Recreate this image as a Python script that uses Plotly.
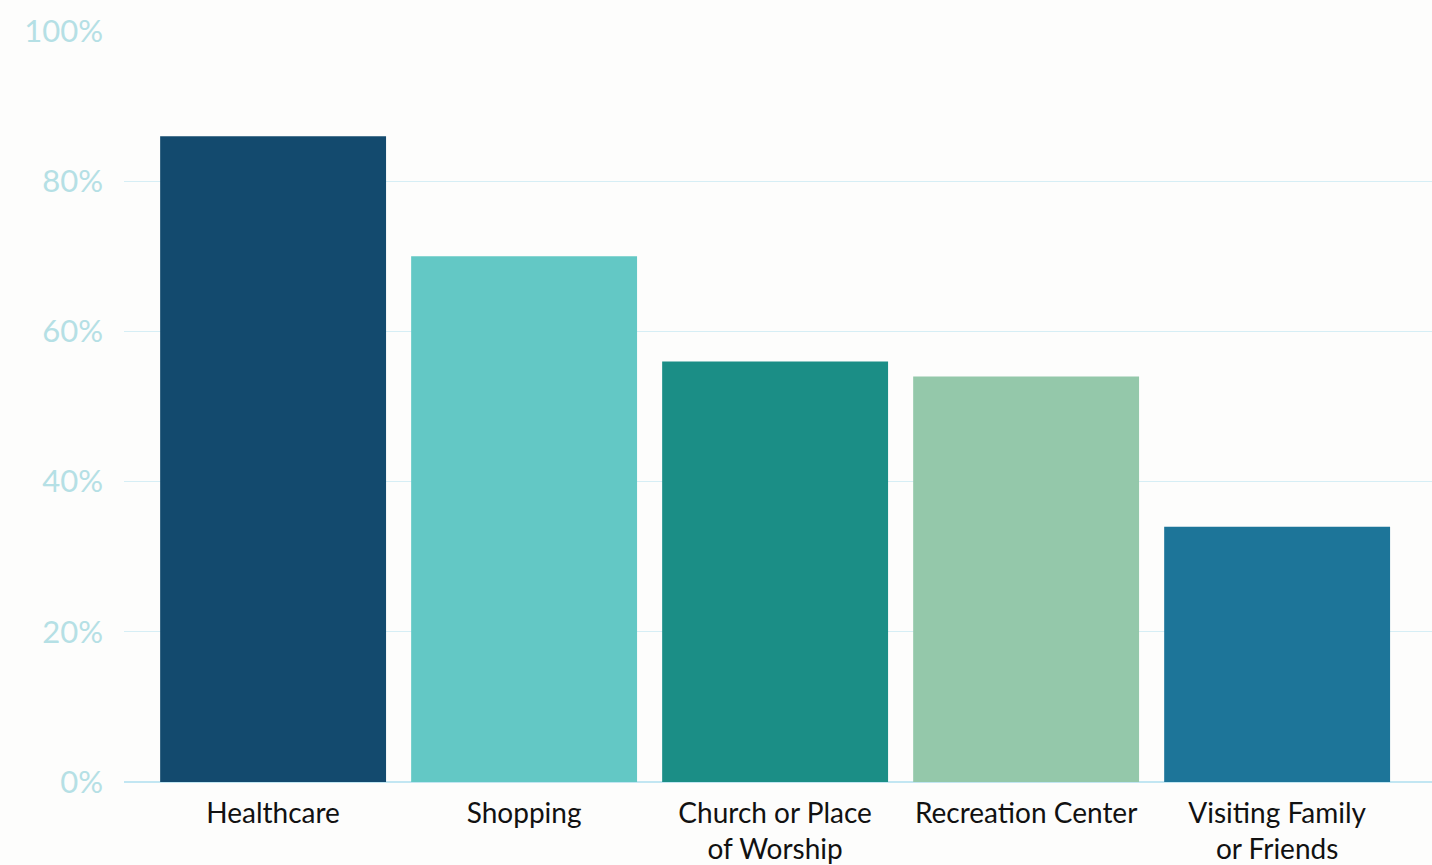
import plotly.graph_objects as go

categories = ["Healthcare", "Shopping", "Church or Place<br>of Worship", "Recreation Center", "Visiting Family<br>or Friends"]
values = [86, 70, 56, 54, 34]
colors = ["#134a6e", "#63c8c5", "#1b8e86", "#94c8aa", "#1d7599"]
y_ticks = [0, 20, 40, 60, 80, 100]
y_tick_labels = ["0%", "20%", "40%", "60%", "80%", "100%"]

fig = go.Figure(go.Bar(
    x=list(range(len(categories))),
    y=values,
    marker=dict(color=colors, line=dict(width=0)),
    hoverinfo="skip",
))

fig.update_layout(
    width=1432, height=865,
    margin=dict(l=124, r=0, t=31, b=78),
    paper_bgcolor="#fdfdfc",
    plot_bgcolor="#fdfdfc",
    bargap=0.1,
    showlegend=False,
    font=dict(family="Lato", color="#111111"),
    xaxis=dict(
        tickmode="array",
        tickvals=list(range(len(categories))),
        ticktext=categories,
        range=[-0.594, 4.617],
        tickfont=dict(size=28, color="#111111"),
        showgrid=False,
        zeroline=False,
        showline=False,
        ticks="",
        ticklabelstandoff=12,
    ),
    yaxis=dict(
        range=[0, 100],
        tickmode="array",
        tickvals=y_ticks,
        ticktext=y_tick_labels,
        tickfont=dict(size=31, color="#b5e0e5"),
        showgrid=True,
        gridcolor="#d6eef5",
        gridwidth=1,
        zeroline=True,
        zerolinecolor="#c2e6f2",
        zerolinewidth=2,
        showline=False,
        ticks="",
        ticklabelstandoff=20,
    ),
)

fig.write_html(
    "out.html",
    config={"displayModeBar": False},
    post_script="document.body.style.margin='0';document.body.style.overflow='hidden';document.body.style.background='#fdfdfc';",
)
